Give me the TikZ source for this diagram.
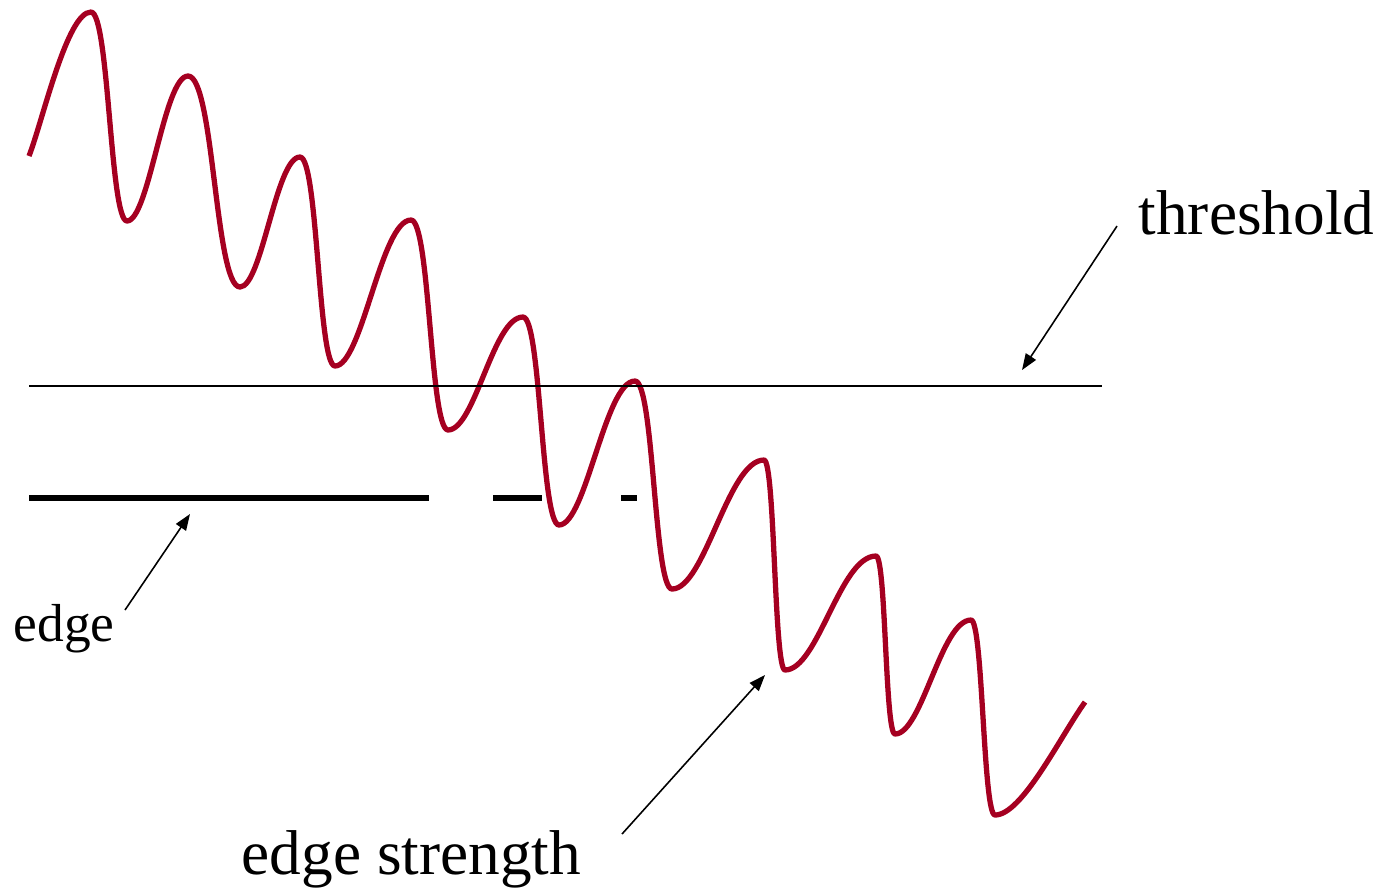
\documentclass[tikz,border=0pt]{standalone}
\usepackage{fontspec}
\setmainfont{Liberation Serif}
\usetikzlibrary{arrows.meta}
\definecolor{wave}{RGB}{165,0,33}
\begin{document}
\begin{tikzpicture}[x=0.01cm,y=-0.01cm,
  curve/.style={draw=wave,line width=1.5pt,line join=round},
  thresh/.style={draw=black,line width=0.42pt},
  edgeseg/.style={draw=black,line width=1.45pt},
  pointer/.style={draw=black,line width=0.45pt,-{Triangle[length=4.6pt,width=3.4pt]}},
  biglabel/.style={anchor=base west,inner sep=0pt,font=\fontsize{18}{20}\selectfont},
  smalllabel/.style={anchor=base west,inner sep=0pt,font=\fontsize{15.2}{17}\selectfont}]
\useasboundingbox (0,0) rectangle (1392,887);
% signal (edge strength)
\draw[curve] (29,156) .. controls +(14,-36) and +(-24,0) .. (91,12)
 .. controls +(18,0) and +(-17,0) .. (127,221)
 .. controls +(22,0) and +(-24,0) .. (188,76)
 .. controls +(26,0) and +(-25,0) .. (240,287)
 .. controls +(22,0) and +(-24,0) .. (300,157)
 .. controls +(18,0) and +(-17,0) .. (335,366)
 .. controls +(27,0) and +(-30,0) .. (411,220)
 .. controls +(19,0) and +(-18,0) .. (448,430)
 .. controls +(27,0) and +(-30,0) .. (523,317)
 .. controls +(18,0) and +(-18,0) .. (559,525)
 .. controls +(27,0) and +(-30,0) .. (635,381)
 .. controls +(19,0) and +(-18,0) .. (672,589)
 .. controls +(33,0) and +(-36,0) .. (764,460)
 .. controls +(11,0) and +(-11,0) .. (785,670)
 .. controls +(33,0) and +(-36,0) .. (876,556)
 .. controls +(10,0) and +(-10,0) .. (895,734)
 .. controls +(27,0) and +(-30,0) .. (971,620)
 .. controls +(12,0) and +(-12,0) .. (995,815)
 .. controls +(27,0) and +(-25,35) .. (1085,702);
% threshold line
\coordinate (thA) at (29,386);
\coordinate (thB) at (1102,386);
\draw[thresh] (thA) -- (thB);
% edge segments
\coordinate (e1a) at (29,498); \coordinate (e1b) at (429,498);
\coordinate (e2a) at (493,498); \coordinate (e2b) at (542,498);
\coordinate (e3a) at (621,498); \coordinate (e3b) at (637,498);
\draw[edgeseg] (e1a) -- (e1b);
\draw[edgeseg] (e2a) -- (e2b);
\draw[edgeseg] (e3a) -- (e3b);
% labels
\node[biglabel] (lthr) at (1138,234) {threshold};
\node[biglabel] (lstr) at (241,874) {edge strength};
\node[smalllabel] (ledge) at (13,641) {edge};
% pointers
\coordinate (pthrS) at (1117,226); \coordinate (pthrE) at (1022,370);
\coordinate (pedgS) at (125,610); \coordinate (pedgE) at (190,514);
\coordinate (pstrS) at (622,834); \coordinate (pstrE) at (765,675);
\draw[pointer] (pthrS) -- (pthrE);
\draw[pointer] (pedgS) -- (pedgE);
\draw[pointer] (pstrS) -- (pstrE);
\end{tikzpicture}
\end{document}
